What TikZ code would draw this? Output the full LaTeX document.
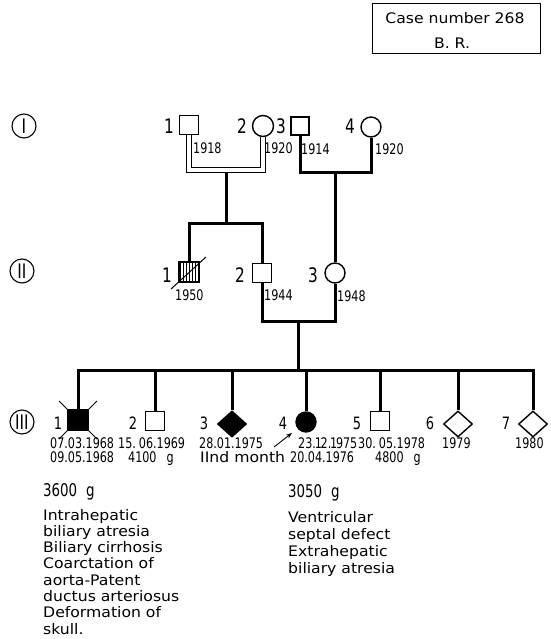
\documentclass[tikz,border=0pt]{standalone}
\usepackage{fontspec}
\setmainfont{DejaVu Sans}[FakeStretch=1.08]
\newfontfamily\numfont{DejaVu Sans Condensed}[FakeStretch=0.85]
\newcommand\nOne{\kern-1.2pt 1\kern-1.2pt}
\usetikzlibrary{shapes.geometric,patterns,arrows.meta,backgrounds}
\begin{document}
\begin{tikzpicture}[x=1pt,y=-1pt,
  pl/.style={line width=3pt},
  dbl/.style={double=white,double distance=3.2pt,line width=1.2pt},
  sq/.style={draw,line width=1.4pt,fill=white,minimum size=19pt,inner sep=0pt},
  cir/.style={draw,circle,line width=1.4pt,fill=white,minimum size=21pt,inner sep=0pt},
  dia/.style={draw,diamond,line width=1.4pt,fill=white,minimum width=29pt,minimum height=26pt,inner sep=0pt},
  lab/.style={font=\numfont\fontsize{20}{20}\selectfont,inner sep=0pt},
  labs/.style={font=\numfont\fontsize{17}{17}\selectfont,inner sep=0pt},
  yr/.style={font=\numfont\fontsize{14.6}{15}\selectfont,inner sep=0pt,anchor=base west},
  wt/.style={font=\numfont\fontsize{17.5}{17}\selectfont,inner sep=0pt,anchor=base west},
  txt/.style={font=\fontsize{14.5}{16}\selectfont,inner sep=0pt,anchor=base west},
  gen/.style={draw,circle,line width=1.1pt,minimum size=24pt,inner sep=0pt,font=\numfont\fontsize{20}{20}\selectfont}
]
\useasboundingbox (0,0) rectangle (550,639);

% case box
\node[draw,line width=1pt,minimum width=168pt,minimum height=50pt,inner sep=0pt] (case) at (456,29) {};
\node[txt,anchor=base] (c1) at (455,23.5) {Case number 268};
\node[txt,anchor=base] (c2) at (452,48.5) {B. R.};

% generation markers
\node[gen] (g1) at (24,126) {I};
\node[gen] (g2) at (22,271) {II};
\node[gen] (g3) at (22,422) {III};

% generation I
\node[sq] (i1) at (189,125) {};
\node[cir] (i2) at (263,126) {};
\node[sq,minimum size=18pt] (i3) at (300,126) {};
\node[cir,minimum size=20pt] (i4) at (371,127) {};
\node[lab] (li1) at (169,126) {1};
\node[lab] (li2) at (242,126) {2};
\node[lab] (li3) at (281,126) {3};
\node[lab] (li4) at (350,126) {4};
\node[yr] (yi1) at (193,154) {1918};
\node[yr] (yi2) at (264,154) {1920};
\node[yr] (yi3) at (301,155) {1914};
\node[yr] (yi4) at (375,155) {1920};

% generation II
\node[sq,minimum size=20pt,pattern=vertical lines] (ii1) at (189,272) {};
\node[sq] (ii2) at (262,273) {};
\node[cir,minimum size=20pt] (ii3) at (335,273) {};
\draw[line width=1pt] (ii1.center) ++(-18,17) -- ++(35,-32);
\node[lab] (lii1) at (167,275) {1};
\node[lab] (lii2) at (240,275) {2};
\node[lab] (lii3) at (313,275) {3};
\node[yr] (yii1) at (175,300) {1950};
\node[yr] (yii2) at (264,300) {1944};
\node[yr] (yii3) at (337,301) {1948};

% generation III
\node[sq,minimum size=20pt,fill=black] (iii1) at (78,420) {};
\node[sq] (iii2) at (155,421) {};
\node[dia,fill=black] (iii3) at (232,424) {};
\node[cir,minimum size=20pt,fill=black] (iii4) at (306,422) {};
\node[sq] (iii5) at (380,421) {};
\node[dia] (iii6) at (458,424) {};
\node[dia] (iii7) at (533,424) {};
\draw[line width=1pt] (iii1.center) ++(-19,-19) -- ++(38,38);
\draw[line width=1pt] (iii1.center) ++(-19,19) -- ++(38,-38);
\node[labs] (liii1) at (58,423) {1};
\node[labs] (liii2) at (133,423) {2};
\node[labs] (liii3) at (204,423) {3};
\node[labs] (liii4) at (283,423) {4};
\node[labs] (liii5) at (357,423) {5};
\node[labs] (liii6) at (430,423) {6};
\node[labs] (liii7) at (506,423) {7};

% dates row 1
\node[yr] (r1a) at (50,448) {07.03.1968};
\node[yr] (r1b) at (118,448) {15.\hspace{3pt}06.1969};
\node[yr] (r1c) at (199,448) {28.01.1975};
\node[yr] (r1d) at (298,448) {23.\nOne2.\nOne975};
\node[yr] (r1e) at (358,448) {30.\hspace{3pt}05.1978};
\node[yr] (r1f) at (442,448) {1979};
\node[yr] (r1g) at (515,448) {1980};
% row 2
\node[yr] (r2a) at (50,462) {09.05.1968};
\node[yr] (r2b) at (128,462) {4100\hspace{10pt}g};
\node[txt] (r2c) at (200,462) {IInd month};
\node[yr] (r2d) at (290,462) {20.04.1976};
\node[yr] (r2e) at (375,462) {4800\hspace{10pt}g};
% weights
\node[wt] (w1) at (43,496) {3600\hspace{9pt}g};
\node[wt] (w4) at (288,497) {3050\hspace{9pt}g};

% arrow to III-4
\coordinate (a0) at (274,447);
\coordinate (a1) at (292,433);
\draw[line width=0.9pt,-{Stealth[length=6pt,width=4.5pt]}] (a0) -- (a1);

% diagnoses
\foreach \t [count=\k] in {Intrahepatic,biliary atresia,Biliary cirrhosis,Coarctation of,aorta-Patent,ductus arteriosus,Deformation of,skull.}
  \node[txt] (da\k) at (43,{520+16.3*(\k-1)}) {\t};
\foreach \t [count=\k] in {Ventricular,septal defect,Extrahepatic,biliary atresia}
  \node[txt] (db\k) at (288,{522+17*(\k-1)}) {\t};

% connectors
\begin{pgfonlayer}{background}
 \fill[white] (0,0) rectangle (550,639);
 \coordinate (m1) at (226,170);
 \draw[dbl] (i1.south) |- (m1) -| (i2.south);
 \coordinate (m1b) at (226,172.5);
 \coordinate (s1) at (226,223);
 \draw[pl] (m1b) -- (s1);
 \draw[pl] (ii1.north) |- (s1) -| (ii2.north);
 \coordinate (m2) at (335,173);
 \draw[pl] (i3.south) |- (m2) -| (i4.south);
 \draw[pl] (m2) -- (ii3.north);
 \coordinate (m3) at (298,321);
 \draw[pl] (ii2.south) |- (m3) -| (ii3.south);
 \coordinate (s3) at (298,370);
 \draw[pl] (m3) -- (s3);
 \draw[pl] (iii1.north) |- (s3) -| (iii7.north);
 \foreach \k in {2,...,6} \draw[pl] (iii\k.north) -- (iii\k.north |- s3);
\end{pgfonlayer}
\end{tikzpicture}
\end{document}
